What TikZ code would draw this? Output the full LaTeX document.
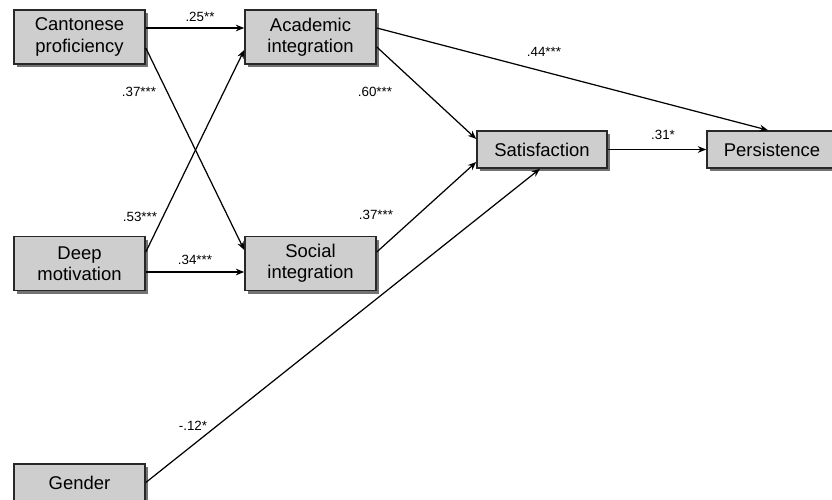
\documentclass[tikz,border=0pt]{standalone}
\usepackage{fontspec}
\setmainfont{Liberation Sans}
\usetikzlibrary{arrows.meta, shadows}
\definecolor{boxgray}{RGB}{206, 206, 206}
\definecolor{linegray}{RGB}{40, 40, 40}

\begin{document}
\begin{tikzpicture}[scale=1,
        >={Stealth[length=4.8pt, width=3.8pt]},
        every node/.style={font=\fontsize{10.5}{12.2}\selectfont},
        var/.style={draw=linegray, line width=0.9pt, fill=boxgray,
          minimum width=2.62cm, minimum height=0.74cm, align=center, inner sep=1pt,
          drop shadow={shadow xshift=1.8pt, shadow yshift=-1.8pt, fill=black, opacity=0.55}},
        coef/.style={font=\fontsize{7.6}{9}\selectfont},
        link/.style={->, line width=0.7pt, draw=black}]

        \useasboundingbox (0,0) rectangle (16.64,10);

        % Variables
        \node[var, minimum height=1.08cm] (cant) at (1.59,9.26) {Cantonese\\proficiency};
        \node[var, minimum height=1.08cm] (acad) at (6.21,9.26) {Academic\\integration};
        \node[var, minimum height=1.08cm] (deep) at (1.59,4.73) {Deep\\motivation};
        \node[var, minimum height=1.08cm] (soc) at (6.21,4.73) {Social\\integration};
        \node[var, minimum width=2.6cm] (sat) at (10.84,7.01) {Satisfaction};
        \node[var, minimum width=2.6cm] (pers) at (15.44,7.01) {Persistence};
        \node[var] (gend) at (1.59,0.35) {Gender};

        % Paths
        \draw[link] ([yshift=0.18cm]cant.east) -- ([yshift=0.18cm]acad.west);
        \draw[link] ([yshift=-0.22cm]cant.east) -- ([yshift=0.27cm]soc.west);
        \draw[link] ([yshift=0.23cm]deep.east) -- ([yshift=-0.26cm]acad.west);
        \draw[link] ([yshift=-0.17cm]deep.east) -- ([yshift=-0.17cm]soc.west);
        \draw[link] ([yshift=0.18cm]acad.east) -- ([xshift=-0.08cm]pers.north);
        \draw[link] ([yshift=-0.2cm]acad.east) -- ([yshift=0.21cm]sat.west);
        \draw[link] ([yshift=0.23cm]soc.east) -- ([yshift=-0.25cm]sat.west);
        \draw[link] (gend.east) -- ([xshift=-0.04cm]sat.south);
        \draw[link] (sat.east) -- (pers.west);

        % Coefficients
        \node[coef] (c1) at (4.0,9.66) {.25**};
        \node[coef] (c2) at (2.78,8.16) {.37***};
        \node[coef] (c3) at (2.8,5.66) {.53***};
        \node[coef] (c4) at (3.9,4.8) {.34***};
        \node[coef] (c5) at (10.88,8.96) {.44***};
        \node[coef] (c6) at (7.5,8.16) {.60***};
        \node[coef] (c7) at (7.52,5.7) {.37***};
        \node[coef] (c8) at (3.86,1.48) {-.12*};
        \node[coef] (c9) at (13.26,7.3) {.31*};

\end{tikzpicture}
\end{document}
